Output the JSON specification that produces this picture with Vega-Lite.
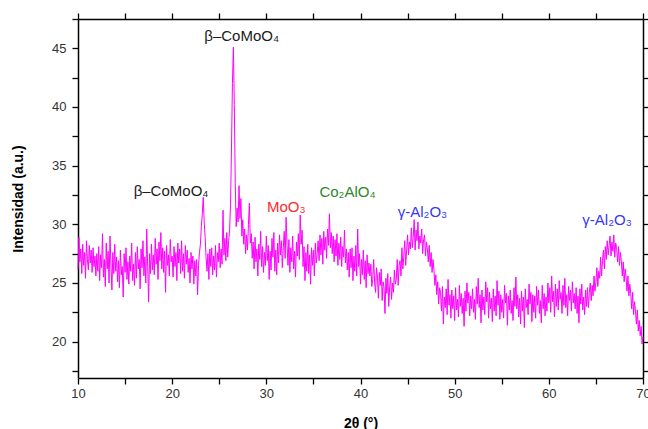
{
  "$schema": "https://vega.github.io/schema/vega-lite/v6.json",
  "width": 565,
  "height": 359,
  "autosize": "none",
  "padding": {"left": 78, "top": 19, "right": 5, "bottom": 51},
  "background": "white",
  "config": {
    "view": {"stroke": null},
    "font": "Liberation Sans",
    "axis": {
      "domainColor": "#000000",
      "domainWidth": 1.5,
      "tickColor": "#000000",
      "tickWidth": 1.3,
      "tickSize": 6,
      "grid": false,
      "labelFont": "Liberation Sans",
      "labelFontSize": 13,
      "labelColor": "#333333",
      "titleFont": "Liberation Sans",
      "titleFontSize": 14,
      "titleFontWeight": "bold",
      "titleColor": "#000000"
    }
  },
  "datasets": {
    "xrd": [
      {"x":10.0,"y":26.2},{"x":10.1,"y":28.9},{"x":10.2,"y":26.8},{"x":10.3,"y":27.9},{"x":10.4,"y":25.8},{"x":10.5,"y":28.3},{"x":10.6,"y":26.5},{"x":10.7,"y":27.6},{"x":10.8,"y":25.4},{"x":10.9,"y":28.6},
      {"x":11.0,"y":27.0},{"x":11.1,"y":26.1},{"x":11.2,"y":28.2},{"x":11.3,"y":26.7},{"x":11.4,"y":27.8},{"x":11.5,"y":25.9},{"x":11.6,"y":28.0},{"x":11.7,"y":26.4},{"x":11.8,"y":27.3},{"x":11.9,"y":25.6},
      {"x":12.0,"y":27.5},{"x":12.1,"y":26.0},{"x":12.2,"y":28.1},{"x":12.3,"y":25.2},{"x":12.4,"y":27.4},{"x":12.5,"y":26.3},{"x":12.6,"y":29.2},{"x":12.7,"y":25.5},{"x":12.8,"y":27.0},{"x":12.9,"y":24.7},
      {"x":13.0,"y":28.4},{"x":13.1,"y":26.2},{"x":13.2,"y":27.7},{"x":13.3,"y":25.0},{"x":13.4,"y":29.0},{"x":13.5,"y":26.5},{"x":13.6,"y":24.4},{"x":13.7,"y":27.6},{"x":13.8,"y":25.8},{"x":13.9,"y":28.3},
      {"x":14.0,"y":26.0},{"x":14.1,"y":27.2},{"x":14.2,"y":25.1},{"x":14.3,"y":26.9},{"x":14.4,"y":24.6},{"x":14.5,"y":27.8},{"x":14.6,"y":25.7},{"x":14.7,"y":26.4},{"x":14.8,"y":23.8},{"x":14.9,"y":27.5},
      {"x":15.0,"y":25.9},{"x":15.1,"y":28.0},{"x":15.2,"y":25.3},{"x":15.3,"y":26.8},{"x":15.4,"y":24.9},{"x":15.5,"y":27.3},{"x":15.6,"y":26.0},{"x":15.7,"y":28.4},{"x":15.8,"y":25.2},{"x":15.9,"y":26.6},
      {"x":16.0,"y":24.8},{"x":16.1,"y":27.6},{"x":16.2,"y":25.4},{"x":16.3,"y":28.1},{"x":16.4,"y":26.2},{"x":16.5,"y":27.0},{"x":16.6,"y":24.5},{"x":16.7,"y":27.9},{"x":16.8,"y":26.3},{"x":16.9,"y":28.6},
      {"x":17.0,"y":25.6},{"x":17.1,"y":27.2},{"x":17.2,"y":25.0},{"x":17.3,"y":29.6},{"x":17.4,"y":26.4},{"x":17.5,"y":23.4},{"x":17.6,"y":27.5},{"x":17.7,"y":25.8},{"x":17.8,"y":28.3},{"x":17.9,"y":26.1},
      {"x":18.0,"y":27.4},{"x":18.1,"y":25.7},{"x":18.2,"y":28.8},{"x":18.3,"y":26.6},{"x":18.4,"y":27.9},{"x":18.5,"y":25.3},{"x":18.6,"y":28.5},{"x":18.7,"y":26.9},{"x":18.8,"y":29.3},{"x":18.9,"y":26.2},
      {"x":19.0,"y":28.0},{"x":19.1,"y":25.9},{"x":19.2,"y":27.7},{"x":19.3,"y":24.2},{"x":19.4,"y":28.2},{"x":19.5,"y":26.5},{"x":19.6,"y":27.4},{"x":19.7,"y":25.6},{"x":19.8,"y":28.7},{"x":19.9,"y":26.8},
      {"x":20.0,"y":27.3},{"x":20.1,"y":25.5},{"x":20.2,"y":28.1},{"x":20.3,"y":26.4},{"x":20.4,"y":27.6},{"x":20.5,"y":25.2},{"x":20.6,"y":28.4},{"x":20.7,"y":26.7},{"x":20.8,"y":27.9},{"x":20.9,"y":25.8},
      {"x":21.0,"y":28.6},{"x":21.1,"y":26.0},{"x":21.2,"y":27.5},{"x":21.3,"y":25.4},{"x":21.4,"y":28.2},{"x":21.5,"y":26.6},{"x":21.6,"y":27.8},{"x":21.7,"y":25.9},{"x":21.8,"y":27.1},{"x":21.9,"y":25.0},
      {"x":22.0,"y":27.6},{"x":22.1,"y":26.2},{"x":22.2,"y":27.3},{"x":22.3,"y":24.9},{"x":22.4,"y":26.9},{"x":22.5,"y":25.6},{"x":22.6,"y":27.0},{"x":22.7,"y":24.0},{"x":22.8,"y":26.5},{"x":22.9,"y":27.6},
      {"x":23.0,"y":28.3},{"x":23.1,"y":29.8},{"x":23.2,"y":30.9},{"x":23.3,"y":32.3},{"x":23.4,"y":30.2},{"x":23.5,"y":28.9},{"x":23.6,"y":27.2},{"x":23.7,"y":26.0},{"x":23.8,"y":27.5},{"x":23.9,"y":25.3},
      {"x":24.0,"y":27.9},{"x":24.1,"y":26.4},{"x":24.2,"y":28.0},{"x":24.3,"y":25.7},{"x":24.4,"y":27.3},{"x":24.5,"y":26.1},{"x":24.6,"y":28.2},{"x":24.7,"y":25.5},{"x":24.8,"y":27.6},{"x":24.9,"y":26.8},
      {"x":25.0,"y":28.4},{"x":25.1,"y":26.3},{"x":25.2,"y":27.9},{"x":25.3,"y":26.6},{"x":25.4,"y":31.2},{"x":25.5,"y":27.4},{"x":25.6,"y":28.8},{"x":25.7,"y":26.9},{"x":25.8,"y":29.3},{"x":25.9,"y":27.2},
      {"x":26.0,"y":28.6},{"x":26.1,"y":29.5},{"x":26.2,"y":31.8},{"x":26.3,"y":36.5},{"x":26.4,"y":42.0},{"x":26.5,"y":45.1},{"x":26.6,"y":40.2},{"x":26.7,"y":33.5},{"x":26.8,"y":29.8},{"x":26.9,"y":31.4},
      {"x":27.0,"y":30.2},{"x":27.1,"y":33.3},{"x":27.2,"y":30.5},{"x":27.3,"y":32.2},{"x":27.4,"y":29.0},{"x":27.5,"y":30.4},{"x":27.6,"y":28.3},{"x":27.7,"y":29.6},{"x":27.8,"y":27.5},{"x":27.9,"y":29.1},
      {"x":28.0,"y":27.8},{"x":28.1,"y":30.0},{"x":28.2,"y":31.8},{"x":28.3,"y":28.4},{"x":28.4,"y":29.2},{"x":28.5,"y":27.1},{"x":28.6,"y":28.5},{"x":28.7,"y":26.2},{"x":28.8,"y":28.9},{"x":28.9,"y":26.8},
      {"x":29.0,"y":27.9},{"x":29.1,"y":25.6},{"x":29.2,"y":28.3},{"x":29.3,"y":27.0},{"x":29.4,"y":29.4},{"x":29.5,"y":26.4},{"x":29.6,"y":28.1},{"x":29.7,"y":25.9},{"x":29.8,"y":27.6},{"x":29.9,"y":26.5},
      {"x":30.0,"y":29.0},{"x":30.1,"y":26.9},{"x":30.2,"y":28.2},{"x":30.3,"y":25.3},{"x":30.4,"y":27.7},{"x":30.5,"y":26.1},{"x":30.6,"y":28.8},{"x":30.7,"y":27.2},{"x":30.8,"y":29.3},{"x":30.9,"y":26.0},
      {"x":31.0,"y":27.8},{"x":31.1,"y":25.7},{"x":31.2,"y":28.4},{"x":31.3,"y":26.7},{"x":31.4,"y":29.1},{"x":31.5,"y":27.4},{"x":31.6,"y":28.6},{"x":31.7,"y":26.3},{"x":31.8,"y":28.0},{"x":31.9,"y":29.4},
      {"x":32.0,"y":27.1},{"x":32.1,"y":30.6},{"x":32.2,"y":28.2},{"x":32.3,"y":26.5},{"x":32.4,"y":28.7},{"x":32.5,"y":25.9},{"x":32.6,"y":28.0},{"x":32.7,"y":26.8},{"x":32.8,"y":29.0},{"x":32.9,"y":26.2},
      {"x":33.0,"y":27.7},{"x":33.1,"y":25.5},{"x":33.2,"y":28.5},{"x":33.3,"y":27.3},{"x":33.4,"y":29.2},{"x":33.5,"y":27.0},{"x":33.6,"y":30.8},{"x":33.7,"y":28.3},{"x":33.8,"y":29.5},{"x":33.9,"y":26.4},
      {"x":34.0,"y":28.1},{"x":34.1,"y":25.2},{"x":34.2,"y":27.6},{"x":34.3,"y":26.0},{"x":34.4,"y":28.3},{"x":34.5,"y":25.8},{"x":34.6,"y":27.4},{"x":34.7,"y":24.9},{"x":34.8,"y":28.0},{"x":34.9,"y":26.5},
      {"x":35.0,"y":27.8},{"x":35.1,"y":25.6},{"x":35.2,"y":28.4},{"x":35.3,"y":26.7},{"x":35.4,"y":27.5},{"x":35.5,"y":28.6},{"x":35.6,"y":26.9},{"x":35.7,"y":29.1},{"x":35.8,"y":27.4},{"x":35.9,"y":28.8},
      {"x":36.0,"y":26.6},{"x":36.1,"y":29.4},{"x":36.2,"y":27.8},{"x":36.3,"y":28.9},{"x":36.4,"y":27.1},{"x":36.5,"y":29.6},{"x":36.6,"y":28.2},{"x":36.7,"y":30.9},{"x":36.8,"y":28.0},{"x":36.9,"y":29.3},
      {"x":37.0,"y":27.5},{"x":37.1,"y":29.0},{"x":37.2,"y":26.8},{"x":37.3,"y":28.7},{"x":37.4,"y":27.3},{"x":37.5,"y":29.2},{"x":37.6,"y":26.5},{"x":37.7,"y":28.4},{"x":37.8,"y":27.0},{"x":37.9,"y":28.9},
      {"x":38.0,"y":26.4},{"x":38.1,"y":28.1},{"x":38.2,"y":27.2},{"x":38.3,"y":29.5},{"x":38.4,"y":26.7},{"x":38.5,"y":27.9},{"x":38.6,"y":26.1},{"x":38.7,"y":27.6},{"x":38.8,"y":25.5},{"x":38.9,"y":27.9},
      {"x":39.0,"y":26.3},{"x":39.1,"y":28.0},{"x":39.2,"y":25.2},{"x":39.3,"y":27.3},{"x":39.4,"y":26.0},{"x":39.5,"y":28.2},{"x":39.6,"y":25.6},{"x":39.7,"y":29.6},{"x":39.8,"y":26.4},{"x":39.9,"y":27.5},
      {"x":40.0,"y":24.9},{"x":40.1,"y":27.0},{"x":40.2,"y":25.7},{"x":40.3,"y":27.8},{"x":40.4,"y":25.3},{"x":40.5,"y":26.9},{"x":40.6,"y":24.6},{"x":40.7,"y":27.4},{"x":40.8,"y":25.8},{"x":40.9,"y":26.7},
      {"x":41.0,"y":25.6},{"x":41.1,"y":26.6},{"x":41.2,"y":24.7},{"x":41.3,"y":25.3},{"x":41.4,"y":27.0},{"x":41.5,"y":25.0},{"x":41.6,"y":24.2},{"x":41.7,"y":26.3},{"x":41.8,"y":25.5},{"x":41.9,"y":23.7},
      {"x":42.0,"y":25.9},{"x":42.1,"y":24.8},{"x":42.2,"y":26.2},{"x":42.3,"y":23.5},{"x":42.4,"y":25.1},{"x":42.5,"y":24.6},{"x":42.6,"y":22.4},{"x":42.7,"y":25.4},{"x":42.8,"y":24.1},{"x":42.9,"y":25.8},
      {"x":43.0,"y":23.0},{"x":43.1,"y":24.7},{"x":43.2,"y":25.5},{"x":43.3,"y":23.6},{"x":43.4,"y":25.0},{"x":43.5,"y":24.2},{"x":43.6,"y":26.1},{"x":43.7,"y":24.9},{"x":43.8,"y":25.3},{"x":43.9,"y":27.0},
      {"x":44.0,"y":24.8},{"x":44.1,"y":26.5},{"x":44.2,"y":26.9},{"x":44.3,"y":25.6},{"x":44.4,"y":28.0},{"x":44.5,"y":26.2},{"x":44.6,"y":27.3},{"x":44.7,"y":28.6},{"x":44.8,"y":26.5},{"x":44.9,"y":27.8},
      {"x":45.0,"y":29.1},{"x":45.1,"y":27.4},{"x":45.2,"y":28.5},{"x":45.3,"y":27.9},{"x":45.4,"y":29.7},{"x":45.5,"y":28.0},{"x":45.6,"y":28.9},{"x":45.7,"y":30.4},{"x":45.8,"y":27.8},{"x":45.9,"y":29.5},
      {"x":46.0,"y":28.6},{"x":46.1,"y":30.2},{"x":46.2,"y":27.9},{"x":46.3,"y":29.0},{"x":46.4,"y":28.4},{"x":46.5,"y":29.6},{"x":46.6,"y":27.5},{"x":46.7,"y":28.7},{"x":46.8,"y":29.1},{"x":46.9,"y":27.3},
      {"x":47.0,"y":28.5},{"x":47.1,"y":27.9},{"x":47.2,"y":26.8},{"x":47.3,"y":28.2},{"x":47.4,"y":26.4},{"x":47.5,"y":27.6},{"x":47.6,"y":25.9},{"x":47.7,"y":27.0},{"x":47.8,"y":26.1},{"x":47.9,"y":24.8},
      {"x":48.0,"y":25.7},{"x":48.1,"y":24.0},{"x":48.2,"y":25.1},{"x":48.3,"y":23.2},{"x":48.4,"y":24.6},{"x":48.5,"y":24.2},{"x":48.6,"y":22.6},{"x":48.7,"y":24.7},{"x":48.8,"y":21.5},{"x":48.9,"y":23.8},
      {"x":49.0,"y":22.9},{"x":49.1,"y":24.5},{"x":49.2,"y":22.3},{"x":49.3,"y":25.3},{"x":49.4,"y":23.1},{"x":49.5,"y":24.0},{"x":49.6,"y":22.0},{"x":49.7,"y":24.4},{"x":49.8,"y":22.8},{"x":49.9,"y":23.9},
      {"x":50.0,"y":21.8},{"x":50.1,"y":24.6},{"x":50.2,"y":22.7},{"x":50.3,"y":23.6},{"x":50.4,"y":22.1},{"x":50.5,"y":24.8},{"x":50.6,"y":23.0},{"x":50.7,"y":24.1},{"x":50.8,"y":22.4},{"x":50.9,"y":23.7},
      {"x":51.0,"y":21.3},{"x":51.1,"y":24.3},{"x":51.2,"y":22.6},{"x":51.3,"y":25.0},{"x":51.4,"y":23.3},{"x":51.5,"y":24.2},{"x":51.6,"y":22.2},{"x":51.7,"y":23.9},{"x":51.8,"y":22.8},{"x":51.9,"y":24.5},
      {"x":52.0,"y":22.5},{"x":52.1,"y":23.6},{"x":52.2,"y":21.9},{"x":52.3,"y":24.7},{"x":52.4,"y":23.2},{"x":52.5,"y":25.4},{"x":52.6,"y":22.9},{"x":52.7,"y":24.0},{"x":52.8,"y":21.6},{"x":52.9,"y":24.4},
      {"x":53.0,"y":22.7},{"x":53.1,"y":23.8},{"x":53.2,"y":22.3},{"x":53.3,"y":25.1},{"x":53.4,"y":23.4},{"x":53.5,"y":24.6},{"x":53.6,"y":22.0},{"x":53.7,"y":24.2},{"x":53.8,"y":22.8},{"x":53.9,"y":23.7},
      {"x":54.0,"y":21.7},{"x":54.1,"y":24.5},{"x":54.2,"y":22.6},{"x":54.3,"y":23.9},{"x":54.4,"y":22.2},{"x":54.5,"y":25.2},{"x":54.6,"y":23.1},{"x":54.7,"y":24.3},{"x":54.8,"y":21.9},{"x":54.9,"y":24.0},
      {"x":55.0,"y":22.5},{"x":55.1,"y":23.6},{"x":55.2,"y":22.0},{"x":55.3,"y":24.8},{"x":55.4,"y":23.3},{"x":55.5,"y":24.1},{"x":55.6,"y":21.4},{"x":55.7,"y":23.9},{"x":55.8,"y":22.7},{"x":55.9,"y":24.4},
      {"x":56.0,"y":22.4},{"x":56.1,"y":23.5},{"x":56.2,"y":21.8},{"x":56.3,"y":24.6},{"x":56.4,"y":23.0},{"x":56.5,"y":25.5},{"x":56.6,"y":22.8},{"x":56.7,"y":24.0},{"x":56.8,"y":22.1},{"x":56.9,"y":23.7},
      {"x":57.0,"y":21.5},{"x":57.1,"y":24.3},{"x":57.2,"y":22.6},{"x":57.3,"y":23.8},{"x":57.4,"y":21.2},{"x":57.5,"y":24.5},{"x":57.6,"y":22.9},{"x":57.7,"y":23.6},{"x":57.8,"y":22.3},{"x":57.9,"y":24.9},
      {"x":58.0,"y":23.2},{"x":58.1,"y":24.2},{"x":58.2,"y":21.7},{"x":58.3,"y":24.0},{"x":58.4,"y":22.5},{"x":58.5,"y":23.9},{"x":58.6,"y":22.0},{"x":58.7,"y":24.7},{"x":58.8,"y":23.1},{"x":58.9,"y":24.4},
      {"x":59.0,"y":22.4},{"x":59.1,"y":23.5},{"x":59.2,"y":21.6},{"x":59.3,"y":24.8},{"x":59.4,"y":22.8},{"x":59.5,"y":24.1},{"x":59.6,"y":22.2},{"x":59.7,"y":23.8},{"x":59.8,"y":22.6},{"x":59.9,"y":25.0},
      {"x":60.0,"y":23.3},{"x":60.1,"y":24.6},{"x":60.2,"y":22.5},{"x":60.3,"y":25.6},{"x":60.4,"y":23.4},{"x":60.5,"y":24.3},{"x":60.6,"y":22.1},{"x":60.7,"y":24.9},{"x":60.8,"y":23.0},{"x":60.9,"y":24.5},
      {"x":61.0,"y":22.7},{"x":61.1,"y":25.2},{"x":61.2,"y":23.6},{"x":61.3,"y":24.2},{"x":61.4,"y":22.4},{"x":61.5,"y":24.8},{"x":61.6,"y":23.1},{"x":61.7,"y":25.4},{"x":61.8,"y":22.9},{"x":61.9,"y":24.0},
      {"x":62.0,"y":22.2},{"x":62.1,"y":24.7},{"x":62.2,"y":23.5},{"x":62.3,"y":24.4},{"x":62.4,"y":22.6},{"x":62.5,"y":25.1},{"x":62.6,"y":23.3},{"x":62.7,"y":24.1},{"x":62.8,"y":22.8},{"x":62.9,"y":24.6},
      {"x":63.0,"y":22.4},{"x":63.1,"y":23.9},{"x":63.2,"y":21.6},{"x":63.3,"y":24.5},{"x":63.4,"y":23.2},{"x":63.5,"y":24.9},{"x":63.6,"y":22.7},{"x":63.7,"y":23.8},{"x":63.8,"y":22.3},{"x":63.9,"y":24.4},
      {"x":64.0,"y":23.0},{"x":64.1,"y":24.6},{"x":64.2,"y":22.9},{"x":64.3,"y":24.2},{"x":64.4,"y":25.0},{"x":64.5,"y":23.5},{"x":64.6,"y":24.8},{"x":64.7,"y":23.9},{"x":64.8,"y":25.6},{"x":64.9,"y":24.3},
      {"x":65.0,"y":25.1},{"x":65.1,"y":26.3},{"x":65.2,"y":24.7},{"x":65.3,"y":26.0},{"x":65.4,"y":25.4},{"x":65.5,"y":27.2},{"x":65.6,"y":25.6},{"x":65.7,"y":26.9},{"x":65.8,"y":27.8},{"x":65.9,"y":26.2},
      {"x":66.0,"y":28.1},{"x":66.1,"y":27.0},{"x":66.2,"y":28.6},{"x":66.3,"y":27.4},{"x":66.4,"y":28.2},{"x":66.5,"y":29.0},{"x":66.6,"y":27.3},{"x":66.7,"y":28.5},{"x":66.8,"y":27.7},{"x":66.9,"y":29.1},
      {"x":67.0,"y":27.2},{"x":67.1,"y":28.4},{"x":67.2,"y":28.0},{"x":67.3,"y":26.8},{"x":67.4,"y":28.1},{"x":67.5,"y":26.5},{"x":67.6,"y":27.6},{"x":67.7,"y":26.9},{"x":67.8,"y":25.6},{"x":67.9,"y":26.8},
      {"x":68.0,"y":25.1},{"x":68.1,"y":26.2},{"x":68.2,"y":25.5},{"x":68.3,"y":24.3},{"x":68.4,"y":25.6},{"x":68.5,"y":23.9},{"x":68.6,"y":24.9},{"x":68.7,"y":24.1},{"x":68.8,"y":22.8},{"x":68.9,"y":24.2},
      {"x":69.0,"y":22.3},{"x":69.1,"y":23.4},{"x":69.2,"y":22.6},{"x":69.3,"y":21.5},{"x":69.4,"y":22.7},{"x":69.5,"y":20.9},{"x":69.6,"y":21.8},{"x":69.7,"y":20.5},{"x":69.8,"y":21.3},{"x":69.9,"y":19.8},
      {"x":70.0,"y":20.4}
    ],
    "labels": [
      {"label": "β–CoMoO₄", "phase": "CoMoO4", "x": 27.38, "y": 45.65},
      {"label": "β–CoMoO₄", "phase": "CoMoO4", "x": 19.88, "y": 32.41},
      {"label": "MoO₃", "phase": "MoO3", "x": 32.11, "y": 31.07},
      {"label": "Co₂AlO₄", "phase": "Co2AlO4", "x": 38.62, "y": 32.3},
      {"label": "γ-Al₂O₃", "phase": "Al2O3", "x": 46.58, "y": 30.65},
      {"label": "γ-Al₂O₃", "phase": "Al2O3", "x": 66.18, "y": 29.94}
    ]
  },
  "layer": [
    {
      "data": {"name": "xrd"},
      "mark": {"type": "line", "color": "#ff00ff", "strokeWidth": 1, "interpolate": "linear"},
      "encoding": {
        "x": {
          "field": "x", "type": "quantitative",
          "scale": {"domain": [10, 70], "nice": false, "zero": false},
          "axis": {
            "orient": "bottom", "title": "2θ (°)",
            "values": [10, 15, 20, 25, 30, 35, 40, 45, 50, 55, 60, 65, 70],
            "labelExpr": "datum.value % 10 === 0 ? datum.label : ''",
            "labelPadding": 3, "titlePadding": 16, "labelFlush": false
          }
        },
        "y": {
          "field": "y", "type": "quantitative",
          "scale": {"domain": [16.9, 47.5], "nice": false, "zero": false},
          "axis": {
            "orient": "left", "title": "Intensidad (a.u.)",
            "values": [17.5, 20, 22.5, 25, 27.5, 30, 32.5, 35, 37.5, 40, 42.5, 45, 47.5],
            "labelExpr": "datum.value % 5 === 0 ? datum.label : ''",
            "labelPadding": 6, "titlePadding": 26, "labelFlush": false
          }
        }
      }
    },
    {
      "data": {"name": "labels"},
      "mark": {"type": "text", "font": "Liberation Sans", "fontSize": 15, "align": "center", "baseline": "alphabetic"},
      "encoding": {
        "x": {
          "field": "x", "type": "quantitative",
          "axis": {
            "orient": "top", "title": null, "labels": false,
            "values": [10, 15, 20, 25, 30, 35, 40, 45, 50, 55, 60, 65, 70]
          }
        },
        "y": {
          "field": "y", "type": "quantitative",
          "axis": {
            "orient": "right", "title": null, "labels": false,
            "values": [17.5, 20, 22.5, 25, 27.5, 30, 32.5, 35, 37.5, 40, 42.5, 45, 47.5]
          }
        },
        "text": {"field": "label"},
        "color": {
          "field": "phase", "type": "nominal", "legend": null,
          "scale": {"domain": ["CoMoO4", "MoO3", "Co2AlO4", "Al2O3"], "range": ["#1a1a1a", "#ff2a2a", "#2a8a2a", "#3535ff"]}
        }
      }
    }
  ],
  "resolve": {"axis": {"x": "independent", "y": "independent"}}
}
